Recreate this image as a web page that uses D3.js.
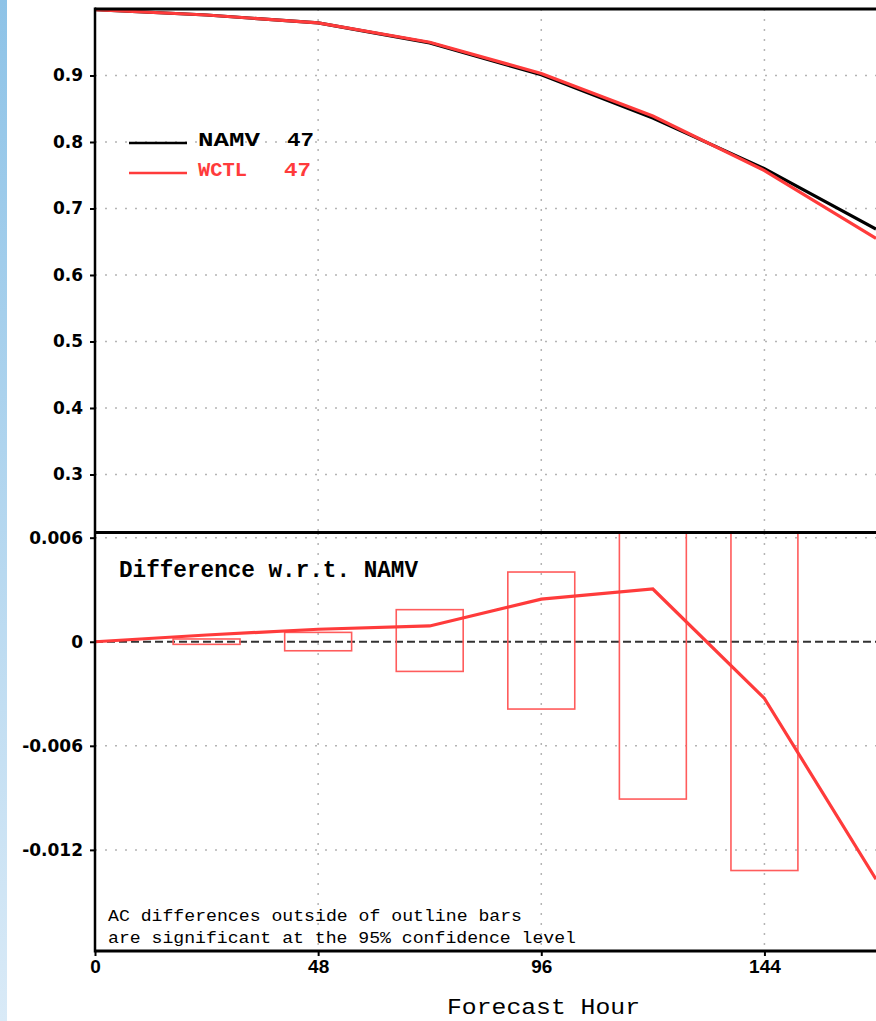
<!DOCTYPE html>
<html>
<head>
<meta charset="utf-8">
<script src="https://cdn.jsdelivr.net/npm/d3@7"></script>
<style>
  html, body { margin: 0; padding: 0; background: #fff; }
  svg { display: block; }
</style>
</head>
<body>
<svg id="chart" width="876" height="1021"></svg>
<script>
// Forecast hours at which the anomaly correlation is verified
const hours = [0, 24, 48, 72, 96, 120, 144, 168];

// Anomaly correlation for each experiment
const namv = [0.999, 0.991, 0.979, 0.949, 0.901, 0.836, 0.760, 0.669];
const wctl = [0.999, 0.991, 0.979, 0.950, 0.903, 0.839, 0.757, 0.655];

// Difference WCTL - NAMV
const diff = [0, 0.00039, 0.00072, 0.00091, 0.00246, 0.00304, -0.00327, -0.01369];

// Significance bars (hours, upper and lower limits)
const barHours = [24, 48, 72, 96, 120, 144];
const barHigh = [0.00016, 0.00054, 0.00185, 0.00402, 0.00907, 0.01319];
const barLow = [-0.00015, -0.00052, -0.00171, -0.00388, -0.00907, -0.01319];

// Axis ticks and labels
const xTicks = [0, 48, 96, 144];
const xLabels = ["0", "48", "96", "144"];
const topTicks = [0.9, 0.8, 0.7, 0.6, 0.5, 0.4, 0.3];
const topLabels = ["0.9", "0.8", "0.7", "0.6", "0.5", "0.4", "0.3"];
const botTicks = [0.006, 0, -0.006, -0.012];
const botLabels = ["0.006", "0", "-0.006", "-0.012"];

const legendNames = ["NAMV", "WCTL"];
const legendCounts = ["47", "47"];

const svg = d3.select("#chart");

// Pale blue strip on the left edge
const defs = svg.append("defs");
const grad = defs.append("linearGradient").attr("id", "strip")
  .attr("x1", 0).attr("y1", 0).attr("x2", 0).attr("y2", 1);
grad.append("stop").attr("offset", "0%").attr("stop-color", "#8ec3e7");
grad.append("stop").attr("offset", "100%").attr("stop-color", "#d9eaf7");
svg.append("rect").attr("x", 0).attr("y", 0).attr("width", 7).attr("height", 1021)
  .attr("fill", "url(#strip)");

const L = 95, R = 876;
const topY0 = 9, topY1 = 532, botY0 = 533, botY1 = 951;

const x = d3.scaleLinear().domain([0, 168]).range([L, R]);
const yTop = d3.scaleLinear().domain([0.2135, 1.0]).range([topY1, topY0]);
const yBot = d3.scaleLinear().domain([-0.01783, 0.00627]).range([botY1, botY0]);

defs.append("clipPath").attr("id", "clipTop").append("rect")
  .attr("x", L).attr("y", topY0).attr("width", R - L).attr("height", topY1 - topY0);
defs.append("clipPath").attr("id", "clipBot").append("rect")
  .attr("x", L).attr("y", botY0).attr("width", R - L).attr("height", botY1 - botY0);

const gridColor = "#b4b4b4";
const gridDash = "2,8";

// Grid lines
const grid = svg.append("g");
topTicks.forEach(v => {
  grid.append("line").attr("x1", L).attr("x2", R)
    .attr("y1", yTop(v)).attr("y2", yTop(v))
    .attr("stroke", gridColor).attr("stroke-width", 1.5).attr("stroke-dasharray", gridDash);
});
botTicks.filter(v => v !== 0).forEach(v => {
  grid.append("line").attr("x1", L).attr("x2", R)
    .attr("y1", yBot(v)).attr("y2", yBot(v))
    .attr("stroke", gridColor).attr("stroke-width", 1.5).attr("stroke-dasharray", gridDash);
});
xTicks.filter(h => h > 0).forEach(h => {
  grid.append("line").attr("x1", x(h)).attr("x2", x(h))
    .attr("y1", topY0).attr("y2", topY1)
    .attr("stroke", gridColor).attr("stroke-width", 1.5).attr("stroke-dasharray", gridDash);
  grid.append("line").attr("x1", x(h)).attr("x2", x(h))
    .attr("y1", botY0).attr("y2", botY1)
    .attr("stroke", gridColor).attr("stroke-width", 1.5).attr("stroke-dasharray", gridDash);
});

// Zero reference line in the difference panel
svg.append("line").attr("x1", L).attr("x2", R)
  .attr("y1", yBot(0)).attr("y2", yBot(0))
  .attr("stroke", "#333").attr("stroke-width", 2).attr("stroke-dasharray", "8,4");

// Upper panel: anomaly correlation curves
const topG = svg.append("g").attr("clip-path", "url(#clipTop)");
const lineTop = d3.line().x((d, i) => x(hours[i])).y(d => yTop(d));
topG.append("path").datum(namv).attr("d", lineTop)
  .attr("fill", "none").attr("stroke", "#000").attr("stroke-width", 3.2);
topG.append("path").datum(wctl).attr("d", lineTop)
  .attr("fill", "none").attr("stroke", "#ff3b3b").attr("stroke-width", 3.2);

// Lower panel: significance bars and difference curve
const botG = svg.append("g").attr("clip-path", "url(#clipBot)");
const halfW = 7.2;
botG.selectAll("rect.bar").data(barHours).join("rect").attr("class", "bar")
  .attr("x", h => x(h - halfW))
  .attr("width", h => x(h + halfW) - x(h - halfW))
  .attr("y", (h, i) => yBot(barHigh[i]))
  .attr("height", (h, i) => yBot(barLow[i]) - yBot(barHigh[i]))
  .attr("fill", "none").attr("stroke", "#ff5c5c").attr("stroke-width", 1.6);
const lineBot = d3.line().x((d, i) => x(hours[i])).y(d => yBot(d));
botG.append("path").datum(diff).attr("d", lineBot)
  .attr("fill", "none").attr("stroke", "#ff3b3b").attr("stroke-width", 3.2);

// Axes
const tickFontY = "'DejaVu Sans', sans-serif";
const yAxisTop = d3.axisLeft(yTop).tickValues(topTicks)
  .tickFormat((d, i) => topLabels[i]).tickSize(5).tickPadding(7);
const yAxisBot = d3.axisLeft(yBot).tickValues(botTicks)
  .tickFormat((d, i) => botLabels[i]).tickSize(5).tickPadding(7);
const xAxis = d3.axisBottom(x).tickValues(xTicks)
  .tickFormat((d, i) => xLabels[i]).tickSize(5).tickPadding(4);

function styleAxis(g, fam, size) {
  g.select(".domain").remove();
  g.selectAll(".tick line").attr("stroke", "#000").attr("stroke-width", 2);
  g.selectAll(".tick text").attr("fill", "#000")
    .style("font-family", fam).style("font-size", size + "px").style("font-weight", "bold");
}
svg.append("g").attr("transform", `translate(${L},0)`).call(yAxisTop)
  .call(g => styleAxis(g, tickFontY, 17));
svg.append("g").attr("transform", `translate(${L},0)`).call(yAxisBot)
  .call(g => styleAxis(g, tickFontY, 17));
svg.append("g").attr("transform", `translate(0,${botY1})`).call(xAxis)
  .call(g => styleAxis(g, "'Liberation Sans', sans-serif", 19));

// Frame lines
const frame = svg.append("g").attr("stroke", "#000");
frame.append("line").attr("x1", L).attr("x2", R).attr("y1", topY0).attr("y2", topY0).attr("stroke-width", 3);
frame.append("line").attr("x1", L).attr("x2", R).attr("y1", topY1 + 0.5).attr("y2", topY1 + 0.5).attr("stroke-width", 3);
frame.append("line").attr("x1", L).attr("x2", R).attr("y1", botY1).attr("y2", botY1).attr("stroke-width", 3);
frame.append("line").attr("x1", L).attr("x2", L).attr("y1", topY0 - 1.5).attr("y2", botY1 + 1.5).attr("stroke-width", 2.5);

// Legend
const mono = "'Liberation Mono', 'DejaVu Sans Mono', monospace";
const legColors = ["#000", "#ff3b3b"];
const legY = [143, 173];
legendNames.forEach((name, i) => {
  svg.append("line").attr("x1", 129).attr("x2", 187)
    .attr("y1", legY[i]).attr("y2", legY[i])
    .attr("stroke", legColors[i]).attr("stroke-width", 2.5);
  svg.append("text").attr("x", 198).attr("y", legY[i] + 3)
    .attr("fill", legColors[i]).style("font-family", mono)
    .style("font-size", "20px").style("font-weight", "bold")
    .attr("textLength", i === 0 ? 62 : 49).attr("lengthAdjust", "spacingAndGlyphs")
    .text(name);
  svg.append("text").attr("x", i === 0 ? 287 : 284).attr("y", legY[i] + 3)
    .attr("fill", legColors[i]).style("font-family", mono)
    .style("font-size", "20px").style("font-weight", "bold")
    .attr("textLength", 27).attr("lengthAdjust", "spacingAndGlyphs")
    .text(legendCounts[i]);
});

// Panel captions
svg.append("text").attr("x", 119).attr("y", 577)
  .style("font-family", mono).style("font-size", "24px").style("font-weight", "bold")
  .attr("textLength", 299).attr("lengthAdjust", "spacingAndGlyphs")
  .text("Difference w.r.t. NAMV");

svg.append("text").attr("x", 108).attr("y", 921)
  .style("font-family", mono).style("font-size", "16px")
  .attr("textLength", 414).attr("lengthAdjust", "spacingAndGlyphs")
  .text("AC differences outside of outline bars");
svg.append("text").attr("x", 108).attr("y", 943)
  .style("font-family", mono).style("font-size", "16px")
  .attr("textLength", 468).attr("lengthAdjust", "spacingAndGlyphs")
  .text("are significant at the 95% confidence level");

svg.append("text").attr("x", 447).attr("y", 1014)
  .style("font-family", mono).style("font-size", "22px")
  .attr("textLength", 193).attr("lengthAdjust", "spacingAndGlyphs")
  .text("Forecast Hour");
</script>
</body>
</html>
